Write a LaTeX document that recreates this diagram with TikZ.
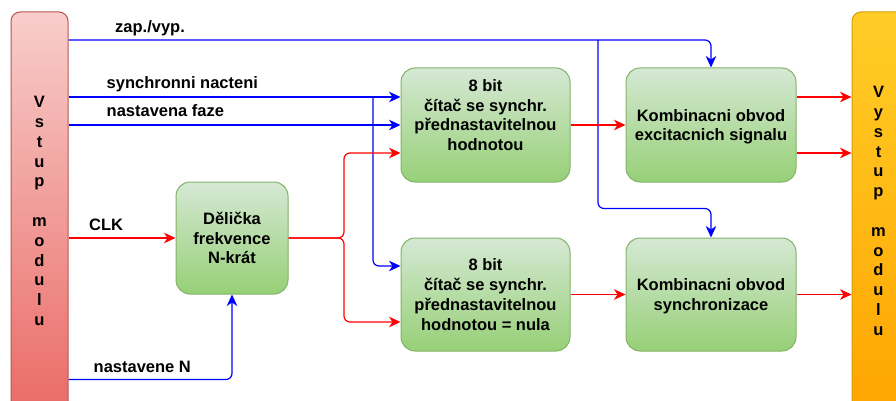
\documentclass[tikz,border=0pt]{standalone}
\usepackage{fontspec}
\setmainfont{Liberation Sans}
\usetikzlibrary{arrows.meta,calc}
\definecolor{wireblue}{RGB}{0,0,255}
\definecolor{wirered}{RGB}{255,0,0}
\definecolor{grtop}{HTML}{D5E8D4}
\definecolor{grbot}{HTML}{97D077}
\definecolor{grline}{HTML}{82B366}
\definecolor{rdtop}{HTML}{F8CECC}
\definecolor{rdbot}{HTML}{EA6B66}
\definecolor{rdline}{HTML}{B85450}
\definecolor{ortop}{HTML}{FFCD28}
\definecolor{orbot}{HTML}{FFA500}
\definecolor{orline}{HTML}{D79B00}

\begin{document}
\begin{tikzpicture}[x=1pt,y=-1pt,
  txt/.style={font=\fontsize{16.5}{19.8}\selectfont\bfseries},
  block/.style={txt, draw=grline, line width=1pt, top color=grtop, bottom color=grbot,
                rounded corners=14pt, align=center, inner sep=0pt},
  bar/.style={txt, line width=1pt, rounded corners=9pt, align=center, inner sep=0pt,
              minimum height=398pt},
  wire/.style={line width=1.2pt, rounded corners=6pt,
               -{Stealth[length=11.5pt,width=10.5pt,inset=3.5pt]}},
  bw/.style={wire, draw=wireblue},
  rw/.style={wire, draw=wirered},
  lbl/.style={txt, anchor=base west, inner sep=0pt}
]
\clip (0,0) rectangle (896,401);

% module input / output bars
\node[bar, draw=rdline, top color=rdtop, bottom color=rdbot, minimum width=57pt]
  (vin) at (39.5,211) {V\\s\\t\\u\\p\\[19.8pt]m\\o\\d\\u\\l\\u};
\node[bar, draw=orline, top color=ortop, bottom color=orbot, minimum width=53pt]
  (vout) at (878.5,211) {V\\y\\s\\t\\u\\p\\[19.8pt]m\\o\\d\\u\\l\\u};

% functional blocks
\node[block, minimum width=112pt, minimum height=112pt] (div) at (232,238)
  {Dělička\\frekvence\\N-krát};
\node[block, minimum width=169pt, minimum height=114pt] (c1) at (485.5,125)
  {8 bit\\čítač se synchr.\\přednastavitelnou\\hodnotou\\\mbox{}};
\node[block, minimum width=169pt, minimum height=113pt] (c2) at (485.5,294.5)
  {8 bit\\čítač se synchr.\\přednastavitelnou\\hodnotou = nula};
\node[block, text depth=0pt, minimum width=170pt, minimum height=114pt] (k1) at (711,125)
  {Kombinacni obvod\\excitacnich signalu};
\node[block, text depth=0pt, minimum width=170pt, minimum height=113pt] (k2) at (711,294.5)
  {Kombinacni obvod\\synchronizace};

% signal labels
\node[lbl] (lzap) at (115,33) {zap./vyp.};
\node[lbl] (lsync) at (106.5,89) {synchronni nacteni};
\node[lbl] (lfaze) at (106.5,117) {nastavena faze};
\node[lbl] (lclk) at (89,230) {CLK};
\node[lbl] (ln) at (93.5,372) {nastavene N};

% branch points
\coordinate (fz) at (598,40);
\coordinate (fs) at (373,97);
\coordinate (fd) at (344,238);
\coordinate (nN) at ($(div.south)+(0,85)$);

% enable line
\draw[bw] (vin.east |- fz) -| (k1.north);
\draw[bw] (fz) |- ($(k2.north)+(0,-29)$) -- (k2.north);

% synchronous load
\draw[bw] (vin.east |- fs) -- (c1.west |- fs);
\draw[bw] (fs) |- ($(c2.west)+(0,-28.5)$);

% preset phase
\draw[bw] (vin.east |- c1.west) -- (c1.west);

% clock and divider
\draw[rw] (vin.east |- div.west) -- (div.west);
\draw[bw] (vin.east |- nN) -| (div.south);
\draw[rw] (div.east) -- (fd) |- ($(c1.west)+(0,28)$);
\draw[rw] (div.east) -- (fd) |- ($(c2.west)+(0,27.5)$);

% counters to combinational logic
\draw[rw] (c1.east) -- (k1.west);
\draw[rw] (c2.east) -- (k2.west);

% outputs
\draw[rw] ($(k1.east)+(0,-28)$) -- (vout.west |- {$(k1.east)+(0,-28)$});
\draw[rw] ($(k1.east)+(0,28)$) -- (vout.west |- {$(k1.east)+(0,28)$});
\draw[rw] (k2.east) -- (vout.west |- k2.east);
\end{tikzpicture}
\end{document}
